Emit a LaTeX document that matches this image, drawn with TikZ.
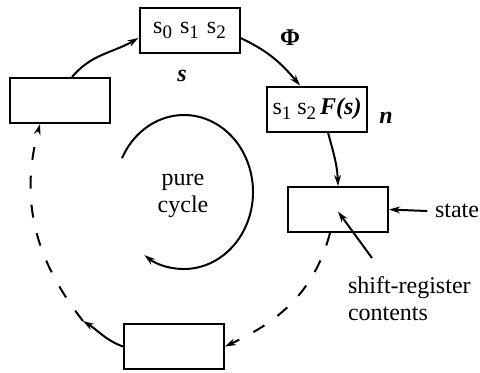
\documentclass[tikz,border=0pt]{standalone}
\usepackage{fontspec}
\setmainfont{Liberation Serif}
\usetikzlibrary{arrows.meta}
\newcommand{\regsub}[1]{\raisebox{-0.45ex}{\fontsize{9.5}{9.5}\selectfont #1}}

\begin{document}
\begin{tikzpicture}[x=0.5pt, y=0.5pt, line width=1pt,
  font=\fontsize{12}{13.5}\selectfont,
  regbox/.style={draw, minimum width=50pt, minimum height=22.5pt, inner sep=0pt},
  flow/.style={-{Stealth[length=5.5pt,width=3.4pt]}},
  gap/.style={dash pattern=on 6.5pt off 8pt}]
\useasboundingbox (0,0) rectangle (480,-372);

% The register states round the cycle
\node[regbox] (sbox) at (189.5,-30.5) {s\regsub{0}\hspace{4pt}s\regsub{1}\hspace{4pt}s\regsub{2}};
\node[regbox] (nbox) at (317,-109) {s\regsub{1}\hspace{3pt}s\regsub{2}\hspace{2pt}\textbf{\textit{F(s)}}};
\node[regbox] (statebox) at (338,-209.5) {};
\node[regbox] (botbox) at (174,-346.5) {};
\node[regbox] (leftbox) at (60,-100.5) {};

% Labels
\node (slbl) at (182,-76) {\textbf{\textit{s}}};
\node (philbl) at (290,-38) {\textbf{Φ}};
\node (nlbl) at (386,-118) {\textbf{\textit{n}}};
\node[align=center] (purelbl) at (183,-196) {pure\\cycle};
\node (statelbl) at (457,-211) {state};
\node[align=left, anchor=north west, inner sep=0pt] (shiftlbl) at (347,-276) {shift-register\\contents};

% Transitions of the shift register
\draw[flow] ([xshift=6pt]leftbox.north) to[out=50, in=210] ([yshift=-3.75pt]sbox.west);
\draw[flow] ([yshift=-3.75pt]sbox.east) to[out=-25, in=130] ([xshift=-8.5pt]nbox.north);
\draw[flow] ([xshift=5.5pt]nbox.south) to[out=-75, in=92] (statebox.north);
\draw[flow, gap] ([xshift=-4pt]statebox.south) to[out=-105, in=25] (botbox.east);
\coordinate (lowleft) at (83,-321);
\draw[flow] (botbox.west) to[out=160, in=-32] (lowleft);
\draw[flow, gap] (lowleft) to[out=128, in=-105] ([xshift=-10pt]leftbox.south);

% The pure cycle
\draw[flow] ([shift={(154:69 and 77)}]184,-192) arc[start angle=154, end angle=-125, x radius=69, y radius=77];

% Pointers to the state box
\coordinate (regtail) at (372,-258);
\draw[flow] (statelbl.west) -- (statebox.east);
\draw[flow] (regtail) -- ([yshift=-1pt]statebox.center);
\end{tikzpicture}
\end{document}
